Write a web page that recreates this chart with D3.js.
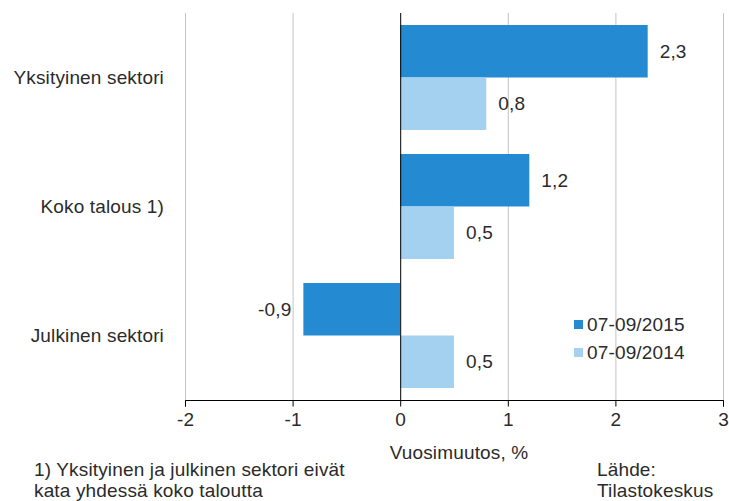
<!DOCTYPE html>
<meta charset="utf-8">
<title>Vuosimuutos</title>
<style>
body { margin: 0; background: #fff; }
svg text { font-family: "Liberation Sans", Arial, sans-serif; font-size: 19px; fill: #2b2b2b; letter-spacing: 0.15px; }
.grid line { stroke: #c4c4c4; stroke-width: 1; }
</style>
<body>
<div id="chart"></div>
<script src="https://d3js.org/d3.v7.min.js"></script>
<script>

// data
var categories = ["Yksityinen sektori", "Koko talous 1)", "Julkinen sektori"];
var series = ["07-09/2015", "07-09/2014"];
var values2015 = [2.3, 1.2, -0.9];
var values2014 = [0.8, 0.5, 0.5];
var ticks = [-2, -1, 0, 1, 2, 3];
var colors = ["#248bd3", "#a3d1ef"];

var width = 729, height = 501;
var plot = {left: 185, right: 723, top: 13, bottom: 400};

var svg = d3.select("#chart").append("svg")
    .attr("width", width)
    .attr("height", height);

var x = d3.scaleLinear()
    .domain([-2, 3])
    .range([plot.left, plot.right]);

var y = d3.scaleBand()
    .domain(categories)
    .range([plot.top, plot.bottom])
    .paddingInner(24 / 129)
    .paddingOuter(12 / 129);

var ySub = d3.scaleBand()
    .domain(series)
    .range([0, y.bandwidth()]);

var fmt = function(v) { return d3.format(".1f")(v).replace(".", ",").replace("−", "-"); };

// gridlines
svg.append("g").attr("class", "grid")
    .selectAll("line")
    .data(ticks.filter(function(t) { return t !== 0; }))
    .enter().append("line")
    .attr("x1", function(d) { return x(d) + 0.5; })
    .attr("x2", function(d) { return x(d) + 0.5; })
    .attr("y1", plot.top)
    .attr("y2", plot.bottom);

// bars
var rows = categories.map(function(c, i) {
    return [
        {cat: c, s: series[0], v: values2015[i], color: colors[0]},
        {cat: c, s: series[1], v: values2014[i], color: colors[1]}
    ];
});

var group = svg.append("g").selectAll("g")
    .data(rows)
    .enter().append("g")
    .attr("transform", function(d) { return "translate(0," + y(d[0].cat) + ")"; });

group.selectAll("rect")
    .data(function(d) { return d; })
    .enter().append("rect")
    .attr("x", function(d) { return x(Math.min(0, d.v)); })
    .attr("y", function(d) { return ySub(d.s); })
    .attr("width", function(d) { return Math.abs(x(d.v) - x(0)); })
    .attr("height", ySub.bandwidth())
    .attr("fill", function(d) { return d.color; });

// value labels
group.selectAll("text")
    .data(function(d) { return d; })
    .enter().append("text")
    .attr("x", function(d) { return d.v < 0 ? x(d.v) - 12 : x(d.v) + 12; })
    .attr("y", function(d) { return ySub(d.s) + ySub.bandwidth() / 2; })
    .attr("dy", "0.35em")
    .attr("text-anchor", function(d) { return d.v < 0 ? "end" : "start"; })
    .text(function(d) { return fmt(d.v); });

// zero line
svg.append("line")
    .attr("x1", x(0) + 0.5).attr("x2", x(0) + 0.5)
    .attr("y1", plot.top).attr("y2", plot.bottom)
    .attr("stroke", "#000");

// x axis
var xAxis = svg.append("g")
    .attr("transform", "translate(0," + (plot.bottom + 0.5) + ")")
    .call(d3.axisBottom(x).tickValues(ticks).tickSize(6).tickPadding(6)
        .tickFormat(function(d) { return d3.format("d")(d).replace("−", "-"); }));
xAxis.select(".domain").attr("stroke", "#000").attr("d", "M" + (plot.left + 0.5) + ",6V0H" + (plot.right + 0.5) + "V6");
xAxis.selectAll(".tick line").attr("stroke", "#000");
xAxis.selectAll(".tick text").attr("fill", "#2b2b2b").style("font-size", "19px")
    .style("font-family", "'Liberation Sans', Arial, sans-serif");

// category labels
svg.append("g").selectAll("text")
    .data(categories)
    .enter().append("text")
    .attr("x", 164)
    .attr("y", function(d) { return y(d) + y.bandwidth() / 2; })
    .attr("dy", "0.35em")
    .attr("text-anchor", "end")
    .text(function(d) { return d; });

// axis title
svg.append("text")
    .attr("x", 459).attr("y", 459)
    .attr("text-anchor", "middle")
    .text("Vuosimuutos, %");

// legend
var legend = svg.append("g").selectAll("g")
    .data(series)
    .enter().append("g")
    .attr("transform", function(d, i) { return "translate(574," + (320 + i * 28) + ")"; });
legend.append("rect")
    .attr("width", 9).attr("height", 9)
    .attr("fill", function(d, i) { return colors[i]; });
legend.append("text")
    .attr("x", 13).attr("y", 4.5)
    .attr("dy", "0.35em")
    .text(function(d) { return d; });

// footnote and source
var foot = svg.append("text").attr("x", 34).attr("y", 476);
foot.append("tspan").attr("x", 34).text("1) Yksityinen ja julkinen sektori eivät");
foot.append("tspan").attr("x", 34).attr("dy", 21).text("kata yhdessä koko taloutta");

var src = svg.append("text").attr("x", 597).attr("y", 476);
src.append("tspan").attr("x", 597).text("Lähde:");
src.append("tspan").attr("x", 597).attr("dy", 21).text("Tilastokeskus");

</script>
</body>
